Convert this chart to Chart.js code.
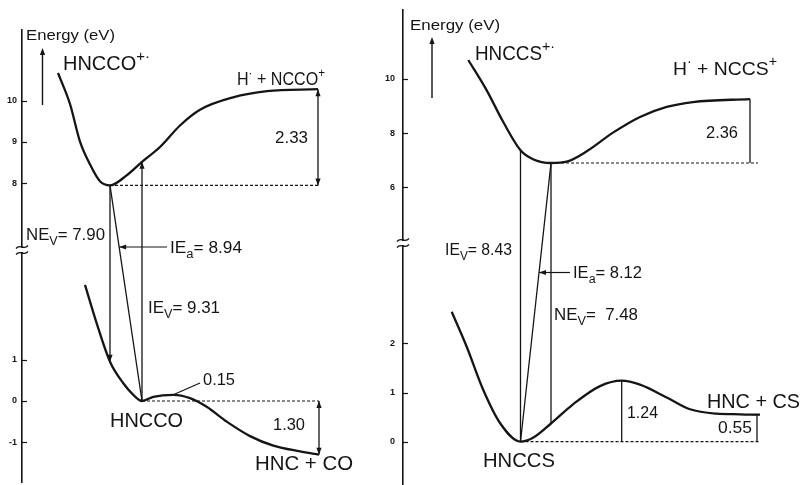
<!DOCTYPE html>
<html>
<head>
<meta charset="utf-8">
<script src="https://cdn.jsdelivr.net/npm/chart.js@4.4.1/dist/chart.umd.min.js"></script>
<style>
  html, body { margin: 0; padding: 0; background: #fff; }
  #wrap { position: relative; width: 806px; height: 485px; overflow: hidden; }
  #left { position: absolute; left: 0; top: 0; }
  #right { position: absolute; left: 380px; top: 0; }
</style>
</head>
<body>
<div id="wrap">
  <canvas id="left" width="390" height="485"></canvas>
  <canvas id="right" width="426" height="485"></canvas>
</div>
<script>
// Potential energy curves, x = reaction coordinate (arbitrary), y = energy in eV.
// Each panel has a broken energy axis: an upper range for the radical cation
// and a lower range for the neutral molecule.

// ---- HNCCO (left) ----
var hnccoIonX = [3.6, 4.8, 5.8, 6.8, 7.8, 8.8, 10.5, 12.0, 13.8, 15.8, 17.8, 21.1, 24.5, 29.6];
var hnccoIonE = [10.67, 9.92, 9.01, 8.46, 8.05, 7.95, 8.20, 8.52, 8.88, 9.40, 9.78, 10.08, 10.23, 10.28];
var hnccoX = [6.3, 7.47, 8.8, 10.13, 11.13, 12.0, 13.13, 15.13, 16.8, 18.47, 20.47, 22.8, 25.13, 27.8, 29.7];
var hnccoE = [2.81, 1.88, 0.95, 0.43, 0.15, 0, 0.10, 0.15, 0.07, -0.14, -0.50, -0.85, -1.08, -1.22, -1.30];
var hnccoHiTicks = [8, 9, 10];
var hnccoLoTicks = [-1, 0, 1];
var hnccoDiss = 2.33;    // H· + NCCO+ above the cation minimum
var hnccoBarrier = 0.15; // small barrier on the neutral curve
var hnccoRxn = 1.30;     // HNC + CO below HNCCO

// ---- HNCCS (right) ----
var hnccsIonX = [6.53, 8.37, 10.0, 11.75, 13.0, 14.8, 16.37, 18.37, 21.0, 23.7, 26.37, 29.0, 34.7];
var hnccsIonE = [10.70, 9.58, 8.43, 7.37, 7.04, 6.90, 6.95, 7.33, 8.02, 8.60, 8.97, 9.15, 9.26];
var hnccsX = [4.87, 6.37, 8.03, 9.7, 11.75, 13.0, 14.8, 17.0, 19.7, 21.87, 23.7, 26.37, 28.7, 31.37, 33.0, 35.4, 35.7];
var hnccsE = [2.64, 1.93, 1.05, 0.38, 0, 0.08, 0.37, 0.76, 1.13, 1.24, 1.16, 0.90, 0.66, 0.57, 0.56, 0.55, 0.55];
var hnccsHiTicks = [6, 8, 10];
var hnccsLoTicks = [0, 1, 2];
var hnccsDiss = 2.36;
var hnccsBarrier = 1.24;
var hnccsRxn = 0.55;

var INK = '#151515';
var FONT = '"Liberation Sans", Arial, Helvetica, sans-serif';

function on(xs, es, i, axis) { return [xs[i], es[i], axis]; }
function last(a) { return a[a.length - 1]; }
function xy(xs, es) { return xs.map(function (x, i) { return { x: x, y: es[i] }; }); }

function curveSet(xs, es, axis) {
  return {
    data: xy(xs, es), yAxisID: axis,
    borderColor: INK, borderWidth: 2.3, pointRadius: 0,
    cubicInterpolationMode: 'monotone', fill: false
  };
}

function dimSet(d) {
  return {
    data: [{ x: d.from[0], y: d.from[1] }, { x: d.to[0], y: d.to[1] }],
    yAxisID: d.from[2], borderColor: INK, borderWidth: d.dash ? 1.2 : 1.3,
    borderDash: d.dash ? [3, 2] : [], pointRadius: 0, fill: false
  };
}

// ---------- drawing helpers ----------
function stroke(ctx, pts, w) {
  ctx.lineWidth = w;
  ctx.beginPath();
  ctx.moveTo(pts[0][0], pts[0][1]);
  for (var i = 1; i < pts.length; i++) ctx.lineTo(pts[i][0], pts[i][1]);
  ctx.stroke();
}

// filled arrowhead with its tip at b, pointing away from a
function head(ctx, a, b) {
  var ang = Math.atan2(b.y - a.y, b.x - a.x), L = 7, W = 2.6;
  var c = Math.cos(ang), s = Math.sin(ang);
  ctx.beginPath();
  ctx.moveTo(b.x, b.y);
  ctx.lineTo(b.x - L * c + W * s, b.y - L * s - W * c);
  ctx.lineTo(b.x - L * c - W * s, b.y - L * s + W * c);
  ctx.closePath();
  ctx.fill();
}

function wave(ctx, x, y) {
  ctx.lineWidth = 1.3;
  ctx.beginPath();
  ctx.moveTo(x - 6, y + 1.5);
  ctx.bezierCurveTo(x - 2, y - 3.5, x + 2, y + 3.5, x + 6, y - 1.5);
  ctx.stroke();
}

// text with _{sub} and ^{sup} parts, squeezed to a given width
function drawRich(ctx, s, x, y, size, width) {
  var segs = [], re = /([_^])\{([^}]*)\}|[^_^]+/g, m;
  while ((m = re.exec(s))) {
    if (m[1]) segs.push({ t: m[2], k: m[1] === '_' ? 'sub' : 'sup' });
    else segs.push({ t: m[0], k: '' });
  }
  function font(k) { return (k ? Math.round(size * 0.74) : size) + 'px ' + FONT; }
  var total = 0;
  segs.forEach(function (g) { ctx.font = font(g.k); g.w = ctx.measureText(g.t).width; total += g.w; });
  var sx = width ? width / total : 1;
  ctx.save();
  ctx.translate(x, y);
  ctx.scale(sx, 1);
  ctx.textAlign = 'left';
  ctx.textBaseline = 'alphabetic';
  var cx = 0;
  segs.forEach(function (g) {
    ctx.font = font(g.k);
    var dy = g.k === 'sub' ? size * 0.34 : (g.k === 'sup' ? -size * 0.45 : 0);
    ctx.fillText(g.t, cx, dy);
    cx += g.w;
  });
  ctx.restore();
}

// ---------- annotation layer: axis break, cross-range transitions, labels ----------
function schematic(p) {
  return {
    id: 'schematic',
    afterDraw: function (chart) {
      var ctx = chart.ctx, area = chart.chartArea, sx = chart.scales.x;
      function at(pt) {
        return { x: sx.getPixelForValue(pt[0]), y: chart.scales[pt[2]].getPixelForValue(pt[1]) };
      }
      ctx.save();
      ctx.strokeStyle = INK;
      ctx.fillStyle = INK;

      // short tick marks pointing into the plot
      ['hi', 'lo'].forEach(function (id) {
        var s = chart.scales[id];
        s.ticks.forEach(function (t) {
          var y = Math.round(s.getPixelForValue(t.value)) + 0.5;
          stroke(ctx, [[area.left, y], [area.left + 5, y]], 1.2);
        });
      });

      // break marks between the two energy ranges
      var by = chart.scales.hi.bottom + p.breakShift, bx = area.left;
      ctx.fillStyle = '#fff';
      ctx.fillRect(bx - 3, by - 2, 6, 4);
      ctx.fillStyle = INK;
      wave(ctx, bx, by - 3);
      wave(ctx, bx, by + 3);

      // "Energy" direction arrow
      var ax = area.left + p.axisArrow.dx;
      stroke(ctx, [[ax, p.axisArrow.y1], [ax, p.axisArrow.y0 + 3]], 1.4);
      head(ctx, { x: ax, y: p.axisArrow.y1 }, { x: ax, y: p.axisArrow.y0 });

      // transitions between the neutral and the cation curves
      var jumps = p.jumps.map(function (j) {
        var a = at(j.from), b = at(j.to);
        stroke(ctx, [[a.x, a.y], [b.x, b.y]], 1.3);
        if (j.head) head(ctx, a, b);
        return [a, b];
      });

      // arrowheads and end caps on the energy-difference lines
      p.dims.forEach(function (d) {
        var a = at(d.from), b = at(d.to);
        if (d.heads) { head(ctx, a, b); head(ctx, b, a); }
        if (d.cap) stroke(ctx, [[b.x - d.cap, b.y], [b.x, b.y]], 1.3);
      });

      // leader lines from labels to the marks
      p.leaders.forEach(function (l) {
        var start;
        if (l.jump !== undefined) {
          var a = jumps[l.jump][0], b = jumps[l.jump][1];
          var t = (l.y - a.y) / (b.y - a.y);
          start = { x: a.x + (b.x - a.x) * t, y: l.y };
        } else {
          start = at(l.from);
        }
        var end = { x: l.to[0] - p.offset, y: l.to[1] };
        stroke(ctx, [[start.x, start.y], [end.x, end.y]], 1.2);
        if (l.head) head(ctx, end, start);
      });

      p.text.forEach(function (t) {
        drawRich(ctx, t[0], t[1] - p.offset, t[2], t[3], t[4]);
      });
      ctx.restore();
    }
  };
}

function energyAxis(a, width, pad) {
  return {
    type: 'linear', position: 'left', stack: 'energy', stackWeight: a.weight,
    min: a.min, max: a.max,
    border: { display: true, color: INK, width: 1.6 },
    grid: { display: true, drawOnChartArea: false, drawTicks: false },
    ticks: { color: INK, padding: pad, font: { family: FONT, size: 9, weight: 'bold' } },
    afterBuildTicks: function (s) { s.ticks = a.ticks.map(function (v) { return { value: v }; }); },
    afterFit: function (s) {
      s.width = width;
      s.paddingTop = 0;
      s.paddingBottom = 0;
    }
  };
}

function buildPanel(id, p) {
  var sets = [
    curveSet(p.ion[0], p.ion[1], 'hi'),
    curveSet(p.neutral[0], p.neutral[1], 'lo')
  ].concat(p.dims.map(dimSet));
  return new Chart(document.getElementById(id), {
    type: 'line',
    data: { datasets: sets },
    options: {
      responsive: false, animation: false, events: [], devicePixelRatio: 1,
      layout: { padding: { top: p.top, bottom: p.bottom, left: 0, right: 0 } },
      plugins: { legend: { display: false }, tooltip: { enabled: false } },
      scales: {
        x: { type: 'linear', display: false, min: 0, max: p.xMax },
        // stacked left axes: the one listed last is placed on top
        lo: energyAxis(p.lo, p.axisWidth, p.tickPad),
        hi: energyAxis(p.hi, p.axisWidth, p.tickPad)
      }
    },
    plugins: [schematic(p)]
  });
}

// ---- left panel ----
var lIonMin = on(hnccoIonX, hnccoIonE, 5, 'hi');
var lMin = on(hnccoX, hnccoE, 5, 'lo');
var lEndX = last(hnccoIonX), lLoEndX = last(hnccoX);
buildPanel('left', {
  offset: 0, top: 30, bottom: 3, xMax: 36.8, axisWidth: 22, tickPad: 5, breakShift: -2,
  hi: { min: 6.337, max: 11.712, weight: 222, ticks: hnccoHiTicks },
  lo: { min: -1.961, max: 3.608, weight: 230, ticks: hnccoLoTicks },
  ion: [hnccoIonX, hnccoIonE],
  neutral: [hnccoX, hnccoE],
  dims: [
    { from: lIonMin, to: [lEndX, lIonMin[1], 'hi'], dash: true },
    { from: [lEndX, lIonMin[1], 'hi'], to: [lEndX, lIonMin[1] + hnccoDiss, 'hi'], heads: true },
    { from: lMin, to: [lLoEndX, 0, 'lo'], dash: true },
    { from: [lLoEndX, 0, 'lo'], to: [lLoEndX, -hnccoRxn, 'lo'], heads: true }
  ],
  jumps: [
    { from: lIonMin, to: on(hnccoX, hnccoE, 2, 'lo'), head: true },   // NEv
    { from: lIonMin, to: lMin },                                       // IEa
    { from: lMin, to: on(hnccoIonX, hnccoIonE, 7, 'hi'), head: true }  // IEv
  ],
  leaders: [
    { jump: 1, y: 247, to: [167, 247], head: true },
    { from: [hnccoX[7], hnccoBarrier, 'lo'], to: [200, 383] }
  ],
  axisArrow: { dx: 20.5, y0: 48, y1: 105 },
  text: [
    ['Energy (eV)', 26, 40, 15, 89],
    ['HNCCO^{+·}', 63, 70, 20, 87],
    ['H^{·} + NCCO^{+}', 237, 85, 18, 88],
    ['2.33', 275, 143, 16, 33],
    ['NE_{V}= 7.90', 26, 240, 16, 79],
    ['IE_{a}= 8.94', 170, 253, 16, 72],
    ['IE_{V}= 9.31', 148, 313, 16, 72],
    ['0.15', 203, 385, 16, 32],
    ['HNCCO', 110, 427, 19.5, 73],
    ['1.30', 273, 430, 16, 32],
    ['HNC + CO', 255, 470, 19.5, 98]
  ]
});

// ---- right panel ----
var rIonMin = on(hnccsIonX, hnccsIonE, 5, 'hi');
var rMin = on(hnccsX, hnccsE, 4, 'lo');
var rEndX = last(hnccsIonX);
buildPanel('right', {
  offset: 380, top: 10, bottom: 0, xMax: 40.3, axisWidth: 23, tickPad: 8, breakShift: 0,
  hi: { min: 3.948, max: 12.546, weight: 233, ticks: hnccsHiTicks },
  lo: { min: -0.880, max: 4.039, weight: 242, ticks: hnccsLoTicks },
  ion: [hnccsIonX, hnccsIonE],
  neutral: [hnccsX, hnccsE],
  dims: [
    { from: rIonMin, to: [35.5, rIonMin[1], 'hi'], dash: true },
    { from: [rEndX, rIonMin[1], 'hi'], to: [rEndX, rIonMin[1] + hnccsDiss, 'hi'] },
    { from: rMin, to: [last(hnccsX), 0, 'lo'], dash: true },
    { from: [hnccsX[9], 0, 'lo'], to: [hnccsX[9], hnccsBarrier, 'lo'] },
    { from: [hnccsX[15], 0, 'lo'], to: [hnccsX[15], hnccsRxn, 'lo'], cap: 5 }
  ],
  jumps: [
    { from: rMin, to: on(hnccsIonX, hnccsIonE, 3, 'hi') },   // IEv
    { from: rIonMin, to: rMin },                               // IEa
    { from: rIonMin, to: on(hnccsX, hnccsE, 6, 'lo') }         // NEv
  ],
  leaders: [
    { jump: 1, y: 272.5, to: [570, 272.5], head: true }
  ],
  axisArrow: { dx: 29, y0: 37, y1: 98 },
  text: [
    ['Energy (eV)', 410, 30, 15, 90],
    ['HNCCS^{+·}', 475, 60, 20, 80],
    ['H^{·} + NCCS^{+}', 673, 75, 19, 104],
    ['2.36', 706, 138, 16, 32],
    ['IE_{V}= 8.43', 445, 255, 16, 67],
    ['IE_{a}= 8.12', 573, 278, 16, 69],
    ['NE_{V}=  7.48', 554, 320, 16, 84],
    ['1.24', 627, 418, 16, 31],
    ['HNC + CS', 707, 408, 19.5, 93],
    ['0.55', 718, 433, 16, 34],
    ['HNCCS', 483, 467, 19.5, 72]
  ]
});
</script>
</body>
</html>
